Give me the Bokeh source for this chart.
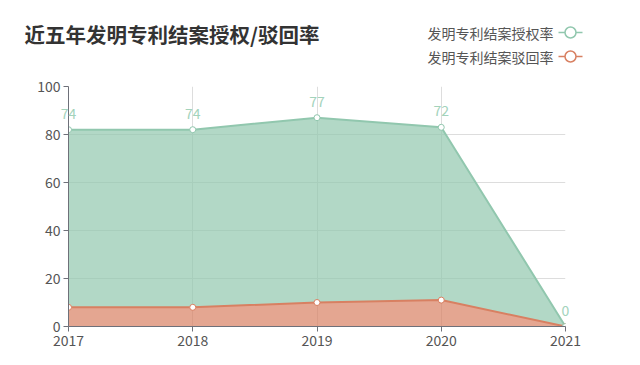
from bokeh.plotting import figure
from bokeh.layouts import column
from bokeh.models import ColumnDataSource, Label, Range1d, FixedTicker
from bokeh.core.properties import value
from bokeh.transform import stack
from bokeh.embed import file_html
from bokeh.resources import INLINE

years = [2017, 2018, 2019, 2020, 2021]
grant_rate = [74, 74, 77, 72, 0]
reject_rate = [8, 8, 10, 11, 0]
y_ticks = [0, 20, 40, 60, 80, 100]
title_text = "近五年发明专利结案授权/驳回率"
series_names = ["发明专利结案授权率", "发明专利结案驳回率"]

GREEN = "#91c7ae"
ORANGE = "#d88062"
FONT = "Noto Sans CJK SC"

# ---------- header (title + legend) ----------
HW, HH = 624, 70
h = figure(width=HW, height=HH, output_backend="svg", toolbar_location=None,
           x_range=Range1d(0, HW), y_range=Range1d(0, HH),
           min_border=0, outline_line_color=None)
h.frame_align = False
h.axis.visible = False
h.grid.visible = False
h.text(x=[24], y=[37], text=[title_text], text_font=value(FONT), text_font_size="20.5px",
       text_font_style="bold", text_color="#333333", text_baseline="middle")
leg_y = [38, 14]
h.text(x=[553, 553], y=leg_y, text=series_names, text_font=value(FONT),
       text_font_size="14px", text_color="#555555", text_align="right",
       text_baseline="middle")
h.segment(x0=[558, 558], x1=[582, 582], y0=leg_y, y1=leg_y,
          line_color=[GREEN, ORANGE], line_width=1.5)
h.scatter(x=[570, 570], y=leg_y, size=11, fill_color="white",
          line_color=[GREEN, ORANGE], line_width=1.5)

# ---------- main chart ----------
src = ColumnDataSource(dict(year=years, grant=grant_rate, reject=reject_rate))

p = figure(width=624, height=365 - HH, output_backend="svg", toolbar_location=None,
           x_range=Range1d(2017, 2021), y_range=Range1d(0, 100),
           min_border_left=68, min_border_right=59, min_border_top=16, min_border_bottom=39)
p.frame_align = False
p.outline_line_color = None

p.varea_stack(["reject", "grant"], x="year", source=src,
              color=[ORANGE, GREEN], alpha=0.7)
p.line(x="year", y=stack("reject"), source=src, line_color=ORANGE, line_width=2)
p.line(x="year", y=stack("reject", "grant"), source=src, line_color=GREEN, line_width=2)
p.scatter(x="year", y=stack("reject"), source=src, size=6, fill_color="white",
          line_color=ORANGE, line_width=1)
p.scatter(x="year", y=stack("reject", "grant"), source=src, size=6, fill_color="white",
          line_color=GREEN, line_width=1)

n = len(years)
for i, (yr, g, r) in enumerate(zip(years, grant_rate, reject_rate)):
    lab = Label(x=yr, y=g + r, text=str(g), text_align="center",
                text_baseline="bottom", y_offset=11, text_color="#a3d3bb",
                text_font_size="14px", text_font=FONT)
    # edge labels go into side panels so they are not clipped by the frame
    place = "left" if i == 0 else ("right" if i == n - 1 else "center")
    p.add_layout(lab, place)

for ax in (p.xaxis[0], p.yaxis[0]):
    ax.axis_line_color = "#6e7079"
    ax.major_tick_line_color = "#6e7079"
    ax.minor_tick_line_color = None
    ax.major_tick_in = 0
    ax.major_tick_out = 5
    ax.major_label_text_color = "#555555"
    ax.major_label_text_font = FONT
    ax.major_label_text_font_size = "14px"
    ax.major_label_standoff = 3
p.xaxis.ticker = FixedTicker(ticks=years)
p.yaxis.ticker = FixedTicker(ticks=y_ticks)
p.xgrid.ticker = FixedTicker(ticks=years)
p.ygrid.ticker = FixedTicker(ticks=y_ticks)
p.xgrid.grid_line_color = "#dddddd"
p.ygrid.grid_line_color = "#dddddd"

layout = column(h, p, spacing=0)
open("out.html", "w").write(file_html(layout, INLINE))
